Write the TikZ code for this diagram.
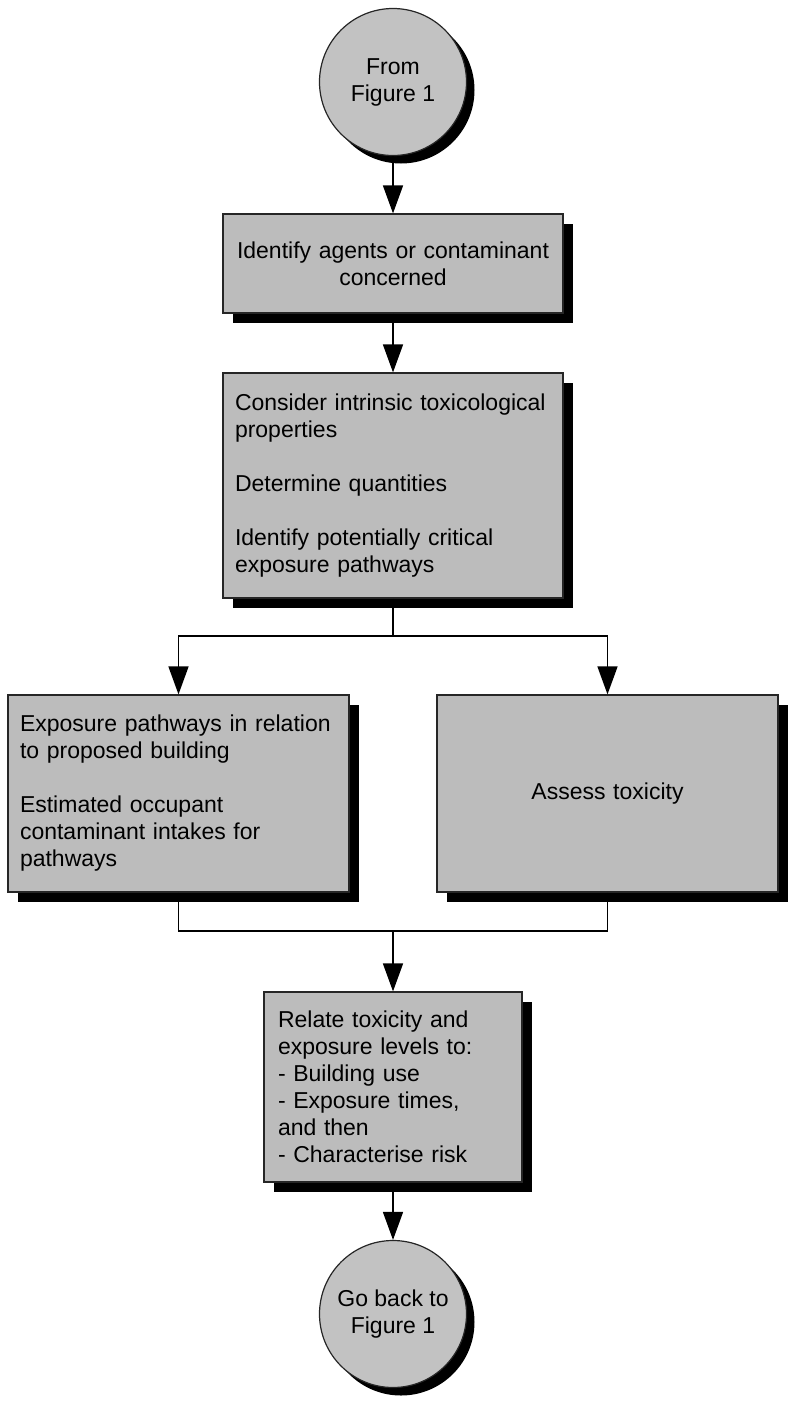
\documentclass[tikz,border=0pt]{standalone}
\usepackage{fontspec}
\setmainfont{Liberation Sans}
\usepackage{tikz}
\usetikzlibrary{positioning, arrows.meta, shadows}
\definecolor{boxgray}{RGB}{188,188,188}
\definecolor{circlegray}{RGB}{194,194,194}

\begin{document}
\begin{tikzpicture}[x=1pt, y=-1pt, >={Triangle[length=28pt, width=20pt]}, line width=1.5pt]
  \useasboundingbox (0,0) rectangle (788,1403);

  % Set the node styles
  \tikzset{stepbox/.style={rectangle, draw=black!85, line width=1.2pt, fill=boxgray,
      inner xsep=12pt, inner ysep=0pt, font=\fontsize{23}{27}\selectfont,
      drop shadow={shadow xshift=10pt, shadow yshift=-10pt, fill=black, opacity=1}}}
  \tikzset{linknode/.style={circle, draw=black!85, line width=1.2pt, fill=circlegray,
      minimum size=147pt, inner sep=0pt, align=center, font=\fontsize{23}{27}\selectfont,
      drop shadow={shadow xshift=8pt, shadow yshift=-8pt, fill=black, opacity=1}}}

  % Draw the flow chart nodes
  \node[linknode] (start) at (393,82) {From\\Figure 1};
  \node[stepbox, text width=316pt, minimum height=99pt, align=center] (agents) at (393,263.5)
    {Identify agents or contaminant\\concerned};
  \node[stepbox, text width=316pt, minimum height=225pt, align=left] (props) at (393,485.5)
    {Consider intrinsic toxicological\\properties\\[27pt]Determine quantities\\[27pt]Identify potentially critical\\exposure pathways};
  \node[stepbox, text width=317pt, minimum height=197pt, align=left] (pathways) at (178.5,793.5)
    {Exposure pathways in relation\\to proposed building\\[27pt]Estimated occupant\\contaminant intakes for\\pathways};
  \node[stepbox, text width=317pt, minimum height=197pt, align=center] (toxicity) at (607.5,793.5)
    {Assess toxicity};
  \node[stepbox, text width=230pt, inner xsep=14pt, minimum height=190pt, align=left] (relate) at (393,1087)
    {Relate toxicity and\\exposure levels to:\\- Building use\\- Exposure times,\\and then\\- Characterise risk};
  \node[linknode] (back) at (393,1314) {Go back to\\Figure 1};

  % Branch and join points
  \coordinate (split) at (393,636);
  \coordinate (merge) at (393,931);

  % Connect the nodes
  \draw[->] (start) -- (agents);
  \draw[->] (agents) -- (props);
  \draw (props) -- (split);
  \draw[->] (split) -| (pathways);
  \draw[->] (split) -| (toxicity);
  \draw (pathways) |- (merge);
  \draw (toxicity) |- (merge);
  \draw[->] (merge) -- (relate);
  \draw[->] (relate) -- (back);
\end{tikzpicture}
\end{document}
